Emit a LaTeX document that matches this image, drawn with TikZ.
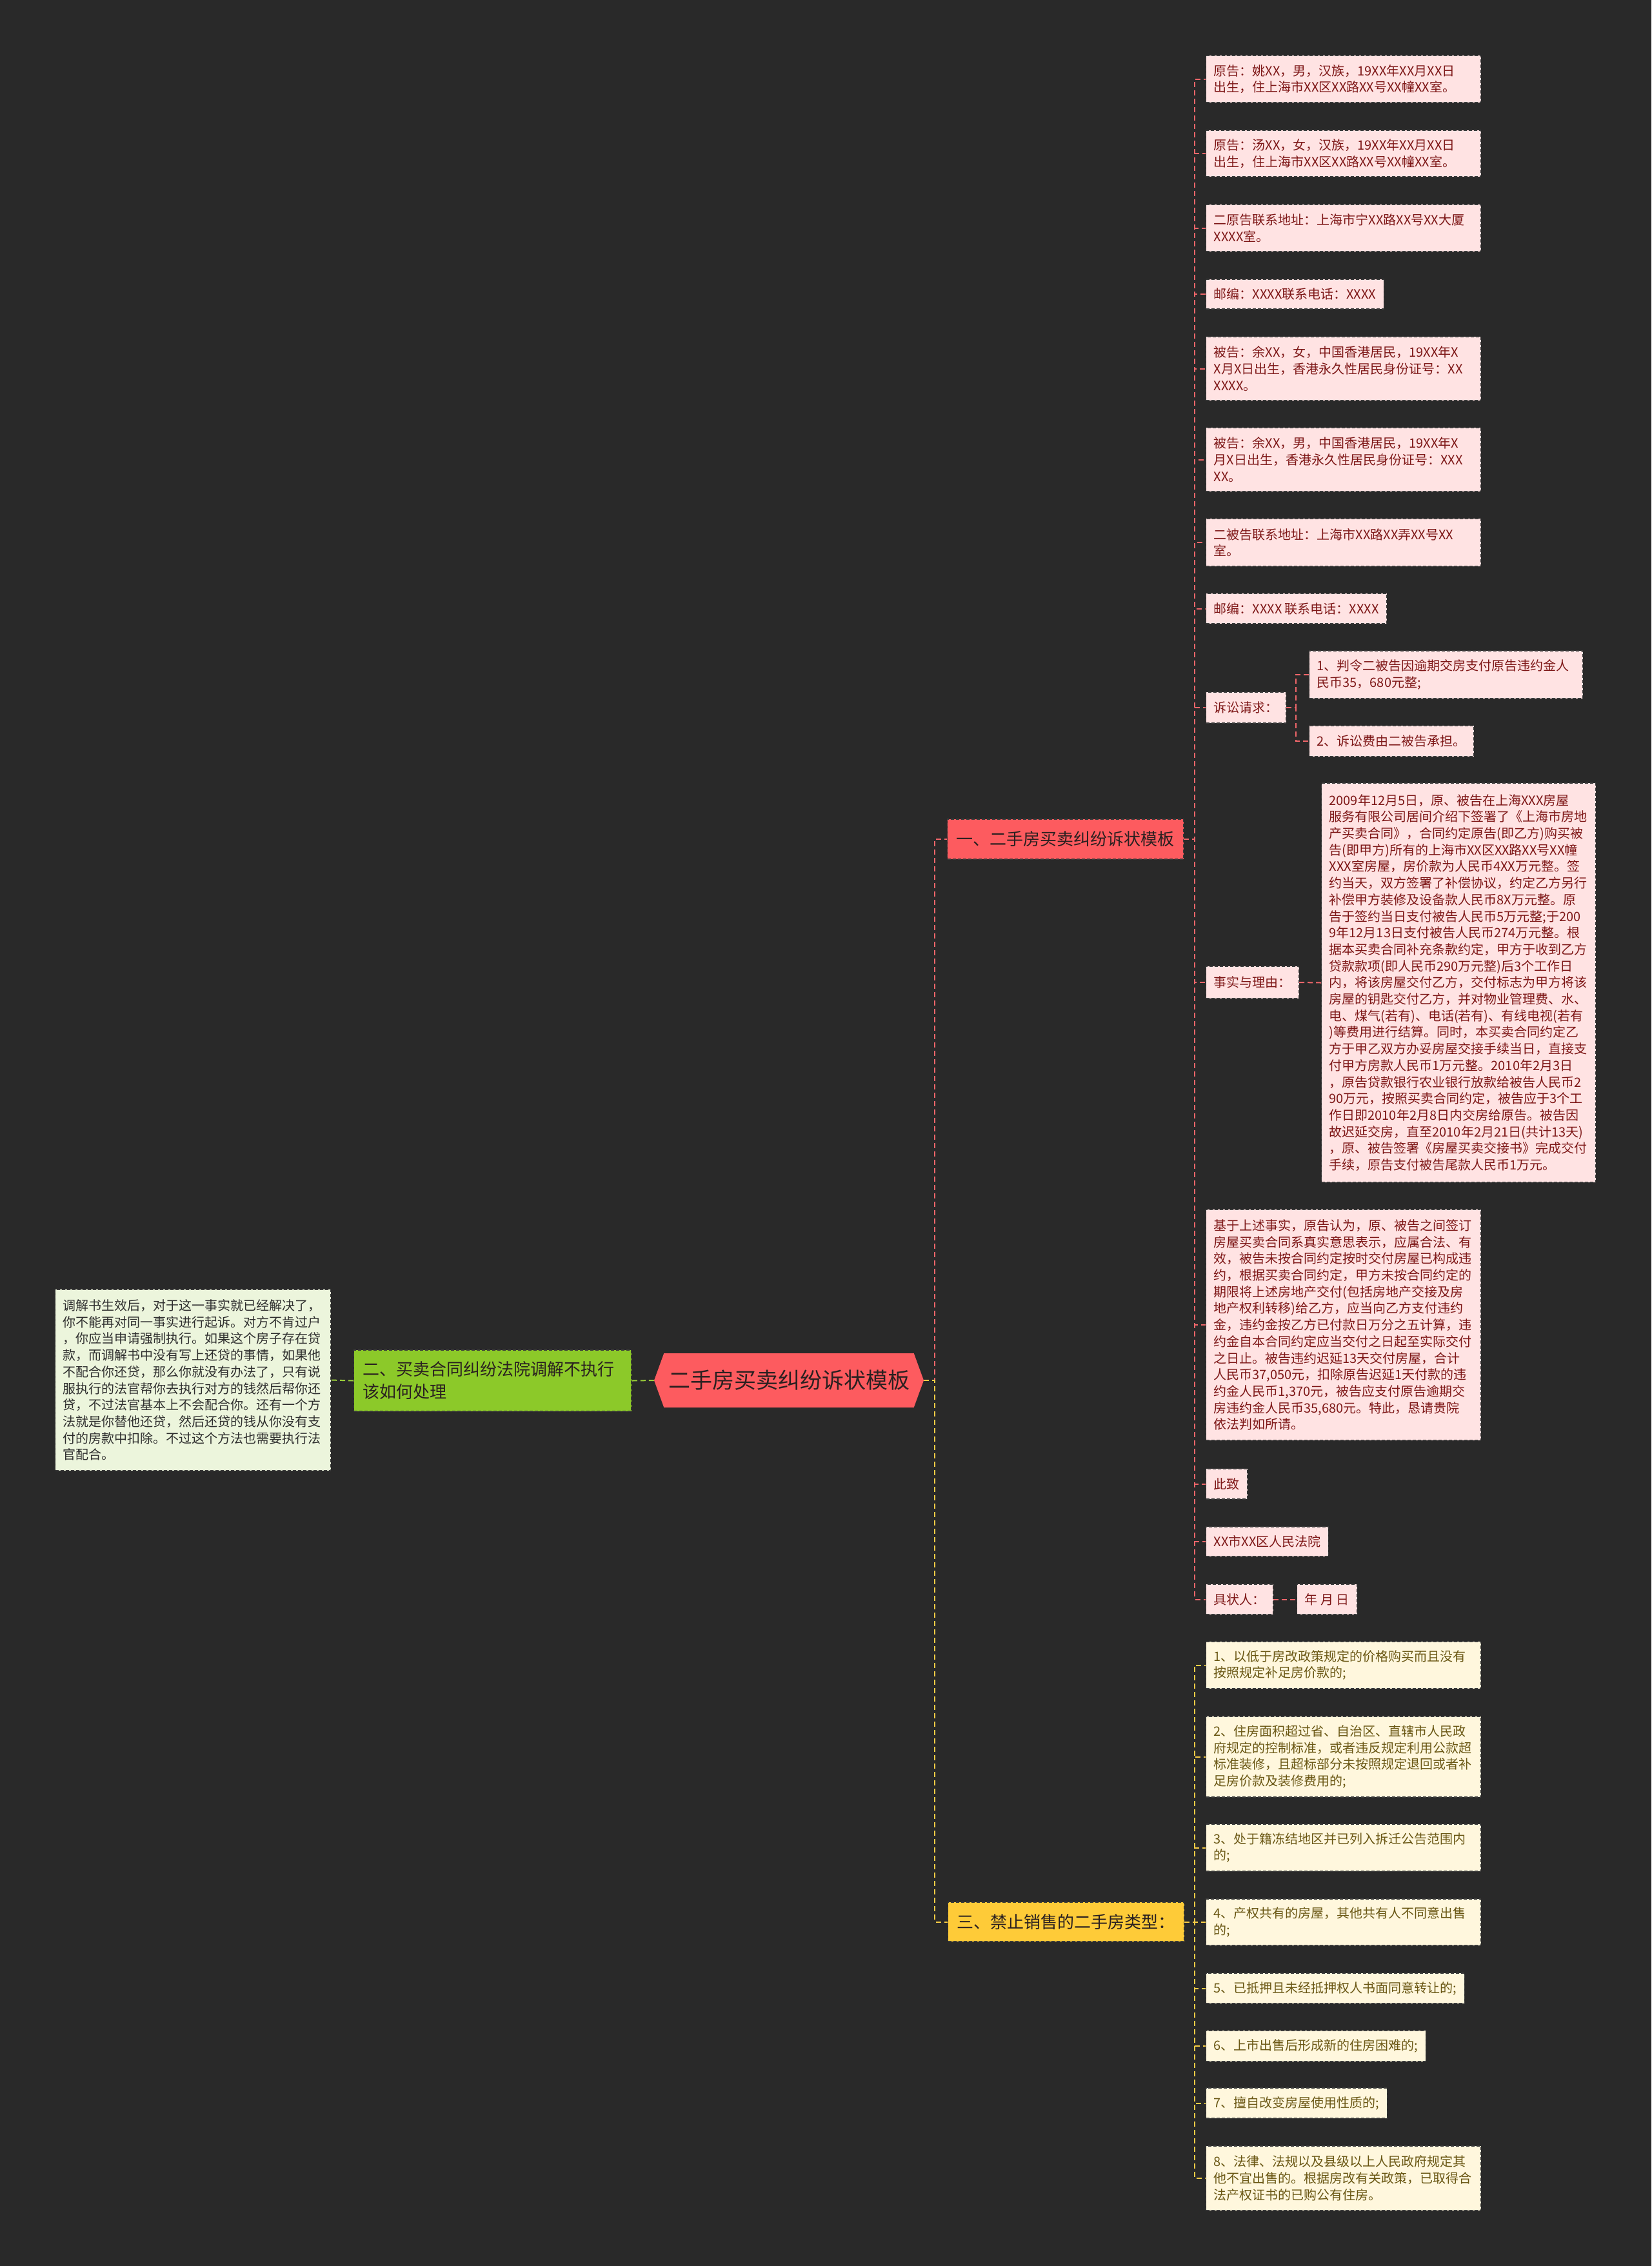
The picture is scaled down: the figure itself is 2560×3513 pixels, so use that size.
\documentclass[tikz,border=0pt]{standalone}
\usepackage{fontspec}
\setmainfont{Noto Sans CJK SC}
\usepackage{xcolor}
\usepackage{tikz}
\usetikzlibrary{positioning,shapes.symbols}

\definecolor{bgc}{HTML}{292929}
\definecolor{redmain}{HTML}{FD5B5F}
\definecolor{redline}{HTML}{F0666A}
\definecolor{pinkfill}{HTML}{FFE3E3}
\definecolor{pinktext}{HTML}{7E1717}
\definecolor{yelmain}{HTML}{FECB38}
\definecolor{yelline}{HTML}{F8CD45}
\definecolor{yelfill}{HTML}{FFF7DD}
\definecolor{yeltext}{HTML}{6A5714}
\definecolor{grnmain}{HTML}{8CC929}
\definecolor{grnline}{HTML}{9ACD3A}
\definecolor{grnfill}{HTML}{ECF5DC}
\definecolor{leftext}{HTML}{2E2E2E}
\definecolor{boxline}{HTML}{3A3A3A}
\definecolor{maintext}{HTML}{2A2020}

\newcommand{\leaffont}{\fontsize{20}{25.7}\selectfont}
\newcommand{\branchfont}{\fontsize{26}{35}\selectfont}

\begin{document}
\begin{tikzpicture}[x=1pt, y=-1pt,
    leaf/.style={draw=boxline, dash pattern=on 5pt off 3pt, line width=1.2pt, anchor=west, align=left, inner xsep=12pt, inner ysep=0pt, font=\leaffont},
    leafP/.style={leaf, fill=pinkfill, text=pinktext},
    leafY/.style={leaf, fill=yelfill, text=yeltext},
    leafG/.style={leaf, fill=grnfill, text=leftext},
    fullw/.style={text width=402pt},
    branch/.style={draw=boxline, dash pattern=on 5pt off 3pt, line width=1.2pt, anchor=west, align=left, inner xsep=14pt, inner ysep=0pt, font=\branchfont, text=maintext},
    lnR/.style={draw=redline, line width=2pt, dash pattern=on 8pt off 5pt},
    lnY/.style={draw=yelline, line width=2pt, dash pattern=on 8pt off 5pt},
    lnG/.style={draw=grnline, line width=2pt, dash pattern=on 8pt off 5pt},
]
% Background
\fill[bgc] (0,0) rectangle (2560,3513);
\useasboundingbox (0,0) rectangle (2560,3513);

% Root
\node[signal, signal to=east and west, signal pointer angle=140, fill=redmain, minimum width=418pt, minimum height=84pt, inner sep=0pt, font=\fontsize{34}{40}\selectfont, text=maintext] (root) at (1223,2140) {二手房买卖纠纷诉状模板};

% Branches
\node[branch, fill=redmain, minimum height=62pt] (suit) at (1468,1301) {一、二手房买卖纠纷诉状模板};
\node[branch, fill=grnmain, minimum height=95pt, text width=402pt] (mediate) at (548,2140.5) {二、买卖合同纠纷法院调解不执行\\该如何处理};
\node[branch, fill=yelmain, minimum height=61pt] (banned) at (1469,2979.5) {三、禁止销售的二手房类型：};

% Branch 1 leaves
\node[leafP, fullw, minimum height=73pt] (plainA) at (1869,122.5) {原告：姚XX，男，汉族，19XX年XX月XX日\\出生，住上海市XX区XX路XX号XX幢XX室。};
\node[leafP, fullw, minimum height=72pt] (plainB) at (1869,238) {原告：汤XX，女，汉族，19XX年XX月XX日\\出生，住上海市XX区XX路XX号XX幢XX室。};
\node[leafP, fullw, minimum height=73pt] (plainAddr) at (1869,353.5) {二原告联系地址：上海市宁XX路XX号XX大厦\\XXXX室。};
\node[leafP, minimum height=46pt] (plainPost) at (1869,456) {邮编：XXXX联系电话：XXXX};
\node[leafP, fullw, minimum height=99pt] (defA) at (1869,571.5) {被告：余XX，女，中国香港居民，19XX年X\\X月X日出生，香港永久性居民身份证号：XX\\XXXX。};
\node[leafP, fullw, minimum height=99pt] (defB) at (1869,712.5) {被告：余XX，男，中国香港居民，19XX年X\\月X日出生，香港永久性居民身份证号：XXX\\XX。};
\node[leafP, fullw, minimum height=74pt] (defAddr) at (1869,841) {二被告联系地址：上海市XX路XX弄XX号XX\\室。};
\node[leafP, minimum height=47pt] (defPost) at (1869,943.5) {邮编：XXXX 联系电话：XXXX};
\node[leafP, minimum height=48pt] (claim) at (1869,1097) {诉讼请求：};
\node[leafP, text width=400pt, minimum height=74pt] (claimA) at (2029,1046) {1、判令二被告因逾期交房支付原告违约金人\\民币35，680元整;};
\node[leafP, minimum height=48pt] (claimB) at (2029,1149) {2、诉讼费由二被告承担。};
\node[leafP, minimum height=50pt] (facts) at (1869,1523) {事实与理由：};
\node[leafP, text width=401pt, minimum height=619pt] (factText) at (2048,1523.5) {2009年12月5日，原、被告在上海XXX房屋\\服务有限公司居间介绍下签署了《上海市房地\\产买卖合同》，合同约定原告(即乙方)购买被\\告(即甲方)所有的上海市XX区XX路XX号XX幢\\XXX室房屋，房价款为人民币4XX万元整。签\\约当天，双方签署了补偿协议，约定乙方另行\\补偿甲方装修及设备款人民币8X万元整。原\\告于签约当日支付被告人民币5万元整;于200\\9年12月13日支付被告人民币274万元整。根\\据本买卖合同补充条款约定，甲方于收到乙方\\贷款款项(即人民币290万元整)后3个工作日\\内，将该房屋交付乙方，交付标志为甲方将该\\房屋的钥匙交付乙方，并对物业管理费、水、\\电、煤气(若有)、电话(若有)、有线电视(若有\\)等费用进行结算。同时，本买卖合同约定乙\\方于甲乙双方办妥房屋交接手续当日，直接支\\付甲方房款人民币1万元整。2010年2月3日\\，原告贷款银行农业银行放款给被告人民币2\\90万元，按照买卖合同约定，被告应于3个工\\作日即2010年2月8日内交房给原告。被告因\\故迟延交房，直至2010年2月21日(共计13天)\\，原、被告签署《房屋买卖交接书》完成交付\\手续，原告支付被告尾款人民币1万元。};
\node[leafP, fullw, minimum height=358pt] (reason) at (1869,2054) {基于上述事实，原告认为，原、被告之间签订\\房屋买卖合同系真实意思表示，应属合法、有\\效，被告未按合同约定按时交付房屋已构成违\\约，根据买卖合同约定，甲方未按合同约定的\\期限将上述房地产交付(包括房地产交接及房\\地产权利转移)给乙方，应当向乙方支付违约\\金，违约金按乙方已付款日万分之五计算，违\\约金自本合同约定应当交付之日起至实际交付\\之日止。被告违约迟延13天交付房屋，合计\\人民币37,050元，扣除原告迟延1天付款的违\\约金人民币1,370元，被告应支付原告逾期交\\房违约金人民币35,680元。特此，恳请贵院\\依法判如所请。};
\node[leafP, minimum height=47pt] (salute) at (1869,2300.5) {此致};
\node[leafP, minimum height=46pt] (court) at (1869,2390) {XX市XX区人民法院};
\node[leafP, minimum height=47pt] (signer) at (1869,2479.5) {具状人：};
\node[leafP, minimum height=47pt, right=36pt of signer] (date) {年 月 日};

% Branch 2 leaf
\node[leafG, text width=403pt, minimum height=281pt] (mediText) at (85,2139.5) {调解书生效后，对于这一事实就已经解决了，\\你不能再对同一事实进行起诉。对方不肯过户\\，你应当申请强制执行。如果这个房子存在贷\\款，而调解书中没有写上还贷的事情，如果他\\不配合你还贷，那么你就没有办法了，只有说\\服执行的法官帮你去执行对方的钱然后帮你还\\贷，不过法官基本上不会配合你。还有一个方\\法就是你替他还贷，然后还贷的钱从你没有支\\付的房款中扣除。不过这个方法也需要执行法\\官配合。};

% Branch 3 leaves
\node[leafY, fullw, minimum height=73pt] (ban1) at (1869,2581.5) {1、以低于房改政策规定的价格购买而且没有\\按照规定补足房价款的;};
\node[leafY, fullw, minimum height=125pt] (ban2) at (1869,2723.5) {2、住房面积超过省、自治区、直辖市人民政\\府规定的控制标准，或者违反规定利用公款超\\标准装修，且超标部分未按照规定退回或者补\\足房价款及装修费用的;};
\node[leafY, fullw, minimum height=73pt] (ban3) at (1869,2864.5) {3、处于籍冻结地区并已列入拆迁公告范围内\\的;};
\node[leafY, fullw, minimum height=72pt] (ban4) at (1869,2980) {4、产权共有的房屋，其他共有人不同意出售\\的;};
\node[leafY, minimum height=47pt] (ban5) at (1869,3082.5) {5、已抵押且未经抵押权人书面同意转让的;};
\node[leafY, minimum height=48pt] (ban6) at (1869,3172) {6、上市出售后形成新的住房困难的;};
\node[leafY, minimum height=47pt] (ban7) at (1869,3260.5) {7、擅自改变房屋使用性质的;};
\node[leafY, fullw, minimum height=100pt] (ban8) at (1869,3377) {8、法律、法规以及县级以上人民政府规定其\\他不宜出售的。根据房改有关政策，已取得合\\法产权证书的已购公有住房。};

% Spines
\coordinate (rootsp) at (1449,2140);
\coordinate (suitsp) at (1852,1301);
\coordinate (claimsp) at (2009,1097);
\coordinate (bansp) at (1852,2979.5);

% Connectors
\draw[lnR] (root.east) -- (rootsp) |- (suit.west);
\draw[lnY] (root.east) -- (rootsp) |- (banned.west);
\draw[lnG] (root.west) -- (mediate.east);
\draw[lnG] (mediate.west) -- (mediText.east);
\foreach \n in {plainA,plainB,plainAddr,plainPost,defA,defB,defAddr,defPost,claim,facts,reason,salute,court,signer}
  \draw[lnR] (suit.east) -- (suitsp) |- (\n.west);
\foreach \n in {claimA,claimB}
  \draw[lnR] (claim.east) -- (claimsp) |- (\n.west);
\draw[lnR] (facts.east) -- (factText.west);
\draw[lnR] (signer.east) -- (date.west);
\foreach \i in {1,...,8}
  \draw[lnY] (banned.east) -- (bansp) |- (ban\i.west);
\end{tikzpicture}
\end{document}
